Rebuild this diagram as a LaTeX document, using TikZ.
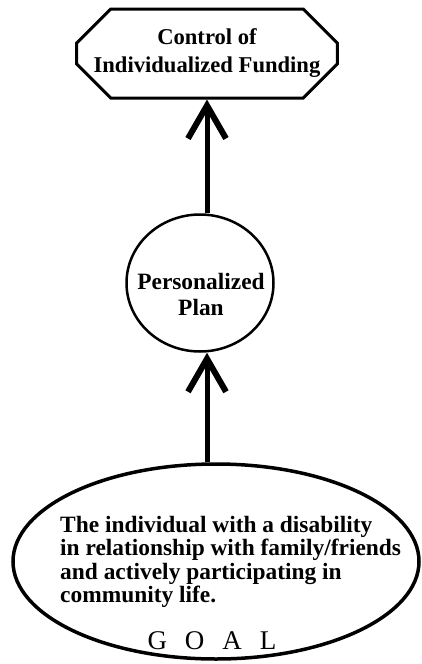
\documentclass[tikz,border=0pt]{standalone}
\usepackage{fontspec}
\setmainfont{Liberation Serif}
\usetikzlibrary{arrows.meta,shapes.misc,shapes.geometric}
\begin{document}
\begin{tikzpicture}[x=1pt,y=-1pt,
  lbl/.style={font=\bfseries\fontsize{22.6}{28}\selectfont, align=center, inner sep=0pt},
  upar/.style={line width=5pt, -{Straight Barb[length=33pt,width=38pt,line width=6pt]}}]
\useasboundingbox (0,0) rectangle (422,664);
\node[chamfered rectangle, chamfered rectangle xsep=17pt, chamfered rectangle ysep=17pt,
      draw, line width=3pt, minimum width=244pt, minimum height=89pt, lbl]
      (ctrl) at (207,53.5) {Control of\\Individualized Funding};
\node[ellipse, draw, line width=2.5pt, minimum width=147pt, minimum height=137pt, inner sep=0pt]
      (plan) at (200,283) {};
\node[lbl, font=\bfseries\fontsize{23.4}{26}\selectfont] (plantxt) at (201,294) {Personalized\\Plan};
\node[ellipse, draw, line width=3.5pt, minimum width=406pt, minimum height=195pt, inner sep=0pt]
      (goal) at (216,561.5) {};
\node[anchor=north west, align=left, inner sep=0pt,
      font=\bfseries\fontsize{23.4}{23.5}\selectfont] (txt) at (60,516)
      {The individual with a disability\\in relationship with family/friends\\and actively participating in\\community life.};
\node[font=\fontsize{27}{27}\selectfont, inner sep=0pt] (goalword) at (212,641)
      {G\hspace{18pt}O\hspace{18pt}A\hspace{18pt}L};
\coordinate (ax) at (207,0);
\draw[upar] (goal.north -| ax) -- (plan.south -| ax);
\draw[upar] (plan.north -| ax) -- (ctrl.south);
\end{tikzpicture}
\end{document}
